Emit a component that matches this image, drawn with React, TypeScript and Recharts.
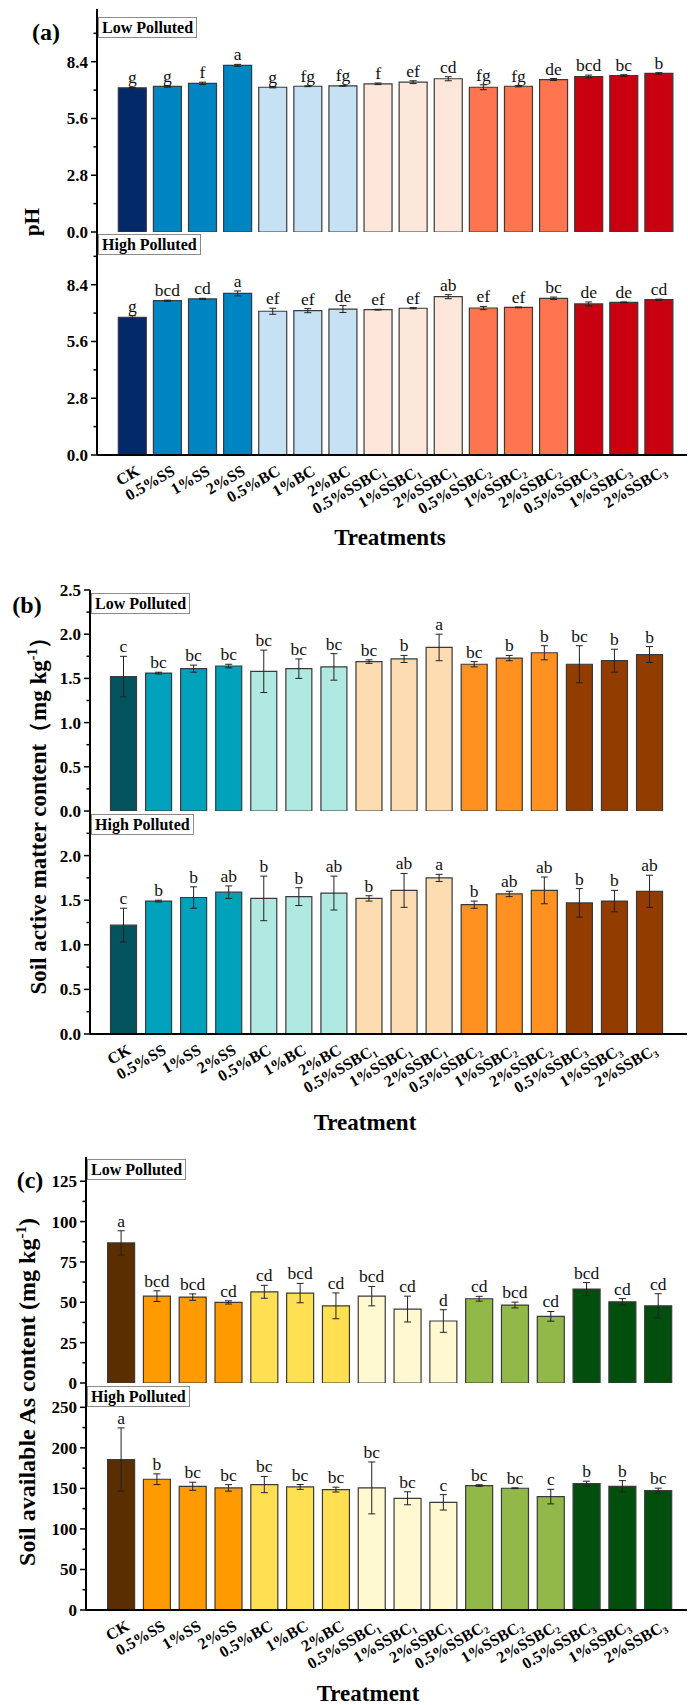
import React from "react";
import { BarChart, Bar, XAxis, YAxis, Cell, ErrorBar, LabelList } from "recharts";

const SERIF = "'Liberation Serif', 'Times New Roman', serif";

const treatments = [
  "CK", "0.5%SS", "1%SS", "2%SS", "0.5%BC", "1%BC", "2%BC",
  "0.5%SSBC₁", "1%SSBC₁", "2%SSBC₁", "0.5%SSBC₂", "1%SSBC₂", "2%SSBC₂",
  "0.5%SSBC₃", "1%SSBC₃", "2%SSBC₃",
];
const groupOf = [0, 1, 1, 1, 2, 2, 2, 3, 3, 3, 4, 4, 4, 5, 5, 5];

// (a) pH
const phLow = [7.11, 7.18, 7.33, 8.22, 7.14, 7.19, 7.21, 7.31, 7.39, 7.56, 7.14, 7.19, 7.52, 7.67, 7.72, 7.82];
const phLowErr = [0.02, 0.04, 0.06, 0.05, 0.03, 0.02, 0.02, 0.04, 0.07, 0.1, 0.12, 0.03, 0.05, 0.07, 0.04, 0.04];
const phLowSig = ["g", "g", "f", "a", "g", "fg", "fg", "f", "ef", "cd", "fg", "fg", "de", "bcd", "bc", "b"];
const phHigh = [6.79, 7.61, 7.7, 7.97, 7.09, 7.12, 7.2, 7.17, 7.24, 7.81, 7.25, 7.28, 7.73, 7.45, 7.53, 7.66];
const phHighErr = [0.08, 0.03, 0.03, 0.12, 0.15, 0.1, 0.17, 0.02, 0.03, 0.1, 0.08, 0.02, 0.06, 0.1, 0.02, 0.03];
const phHighSig = ["g", "bcd", "cd", "a", "ef", "ef", "de", "ef", "ef", "ab", "ef", "ef", "bc", "de", "de", "cd"];
const phColors = ["#03296b", "#0085c3", "#c6e0f4", "#fde7da", "#ff7550", "#c9000f"];
const phTicks = [0, 2.8, 5.6, 8.4];
const phMinor = [1.4, 4.2, 7.0, 9.8];

// (b) soil active matter
const samLow = [1.52, 1.56, 1.61, 1.64, 1.58, 1.61, 1.63, 1.69, 1.72, 1.85, 1.66, 1.73, 1.79, 1.66, 1.7, 1.77];
const samLowErr = [0.23, 0.01, 0.04, 0.02, 0.24, 0.11, 0.15, 0.02, 0.04, 0.15, 0.03, 0.03, 0.08, 0.21, 0.13, 0.09];
const samLowSig = ["c", "bc", "bc", "bc", "bc", "bc", "bc", "bc", "b", "a", "bc", "b", "b", "bc", "b", "b"];
const samHigh = [1.22, 1.49, 1.53, 1.59, 1.52, 1.54, 1.58, 1.52, 1.61, 1.75, 1.45, 1.57, 1.61, 1.47, 1.49, 1.6];
const samHighErr = [0.19, 0.01, 0.12, 0.07, 0.25, 0.1, 0.19, 0.03, 0.19, 0.04, 0.04, 0.03, 0.15, 0.16, 0.12, 0.18];
const samHighSig = ["c", "b", "b", "ab", "b", "b", "ab", "b", "ab", "a", "b", "ab", "ab", "b", "b", "ab"];
const samColors = ["#03535f", "#00a1bb", "#b0e9e1", "#fedcb2", "#ff9120", "#933c00"];
const samTicksLow = [0, 0.5, 1.0, 1.5, 2.0, 2.5];
const samTicksHigh = [0, 0.5, 1.0, 1.5, 2.0];
const samMinor = [0.25, 0.75, 1.25, 1.75, 2.25];

// (c) available As
const asLow = [86.8, 53.8, 53.2, 49.9, 56.5, 55.7, 47.8, 53.8, 45.8, 38.4, 52.2, 48.3, 41.3, 58.2, 50.3, 47.8];
const asLowErr = [7.5, 3.3, 2, 1, 4, 6, 8, 6, 8, 7, 1.5, 1.8, 3, 4, 2, 7.5];
const asLowSig = ["a", "bcd", "bcd", "cd", "cd", "bcd", "cd", "bcd", "cd", "d", "cd", "bcd", "cd", "bcd", "cd", "cd"];
const asHigh = [185.6, 161.3, 152.6, 150.6, 154.7, 151.8, 148.5, 150.6, 137.8, 132.8, 153.5, 150.2, 139.9, 155.9, 152.6, 147.3];
const asHighErr = [39, 6.6, 5, 4, 10, 3, 3, 32, 8, 9.5, 1, 0.5, 9, 3, 7, 3];
const asHighSig = ["a", "b", "bc", "bc", "bc", "bc", "bc", "bc", "bc", "c", "bc", "bc", "c", "b", "b", "bc"];
const asColors = ["#5b2e00", "#ff9a00", "#ffe052", "#fff8d1", "#93b84a", "#024f0d"];
const asTicksLow = [0, 25, 50, 75, 100, 125];
const asMinorLow = [12.5, 37.5, 62.5, 87.5, 112.5];
const asTicksHigh = [0, 50, 100, 150, 200, 250];
const asMinorHigh = [25, 75, 125, 175, 225];

const axisStyle = { stroke: "#000", strokeWidth: 2 };

type SubProps = {
  values: number[];
  errs: number[];
  sigs: string[];
  colors: string[];
  domain: [number, number];
  ticks: number[];
  minor: number[];
  fmt: (v: number) => string;
  top: number;
  bottom: number;
  left: number;
  right: number;
  padL: number;
  padR: number;
  barSize: number;
  showX: boolean;
  topLine: boolean;
};

const makeYTick = (major: number[], fmt: (v: number) => string) => (props: any) => {
  const { x, y, payload } = props;
  const ax = x + 10;
  const isMajor = major.includes(payload.value);
  return (
    <g>
      <line x1={ax - (isMajor ? 6 : 3.5)} x2={ax} y1={y} y2={y} stroke="#000" strokeWidth={1.5} />
      {isMajor && (
        <text x={ax - 9} y={y} dy="0.35em" textAnchor="end" fontFamily={SERIF} fontWeight="bold" fontSize={17} fill="#000">
          {fmt(payload.value)}
        </text>
      )}
    </g>
  );
};

const XTick = (props: any) => {
  const { x, y, payload } = props;
  const ax = x + 9;
  const ay = y + 19;
  return (
    <text x={ax} y={ay} transform={`rotate(-30 ${ax} ${ay})`} textAnchor="end" fontFamily={SERIF} fontWeight="bold" fontSize={16} fill="#000">
      {String(payload.value)}
    </text>
  );
};

const makeSig = (values: number[], errs: number[]) => (props: any) => {
  const vb = props.viewBox || {};
  const x = props.x ?? vb.x;
  const y = props.y ?? vb.y;
  const width = props.width ?? vb.width;
  const height = props.height ?? vb.height;
  const i = props.index;
  const ppu = height / values[i];
  const top = y - errs[i] * ppu;
  return (
    <text x={x + width / 2} y={top - 4} textAnchor="middle" fontFamily={SERIF} fontSize={17.5} fill="#111">
      {props.value}
    </text>
  );
};

function SubChart(p: SubProps) {
  const mt = 14;
  const xh = p.showX ? 80 : 0;
  const mb = p.showX ? 0 : 12;
  const height = mt + (p.bottom - p.top) + xh + mb;
  const data = treatments.map((name, i) => ({ name, v: p.values[i], e: p.errs[i], s: p.sigs[i] }));
  const allTicks = [...p.ticks, ...p.minor].sort((a, b) => a - b);
  return (
    <div style={{ position: "absolute", left: 0, top: p.top - mt }}>
      <BarChart
        width={688}
        height={height}
        data={data}
        margin={{ top: mt, right: 688 - p.right, bottom: mb, left: 0 }}
        barCategoryGap={0}
      >
        {p.topLine && (
          <XAxis xAxisId="t" orientation="top" dataKey="name" height={0} tick={false} tickLine={false} axisLine={axisStyle} />
        )}
        <XAxis
          dataKey="name"
          height={xh}
          interval={0}
          padding={{ left: p.padL, right: p.padR }}
          tickLine={false}
          tickSize={0}
          tickMargin={0}
          axisLine={axisStyle}
          tick={p.showX ? XTick : false}
        />
        <YAxis
          width={p.left}
          type="number"
          domain={p.domain}
          ticks={allTicks}
          interval={0}
          allowDataOverflow
          tickLine={false}
          tickSize={6}
          tickMargin={4}
          axisLine={axisStyle}
          tick={makeYTick(p.ticks, p.fmt)}
        />
        <YAxis yAxisId="r" orientation="right" width={0} type="number" domain={[0, 1]} tick={false} tickLine={false} axisLine={axisStyle} />
        <Bar dataKey="v" barSize={p.barSize} stroke="#3a3a3a" strokeWidth={1.2} isAnimationActive={false}>
          {data.map((d, i) => (
            <Cell key={d.name} fill={p.colors[groupOf[i]]} />
          ))}
          <ErrorBar dataKey="e" width={3.5} stroke="#222" strokeWidth={1} direction="y" />
          <LabelList dataKey="s" content={makeSig(p.values, p.errs)} />
        </Bar>
      </BarChart>
    </div>
  );
}

const Tag = ({ left, top, text }: { left: number; top: number; text: string }) => (
  <div
    style={{
      position: "absolute",
      left,
      top,
      border: "1px solid #8a8a8a",
      background: "#fff",
      padding: "0 3px",
      fontFamily: SERIF,
      fontWeight: "bold",
      fontSize: 16,
      lineHeight: "19px",
      whiteSpace: "nowrap",
    }}
  >
    {text}
  </div>
);

const Title = ({ cx, cy, size, rotate, children }: { cx: number; cy: number; size: number; rotate?: boolean; children: React.ReactNode }) => (
  <div
    style={{
      position: "absolute",
      left: cx,
      top: cy,
      transform: `translate(-50%, -50%)${rotate ? " rotate(-90deg)" : ""}`,
      whiteSpace: "nowrap",
      fontFamily: SERIF,
      fontWeight: "bold",
      fontSize: size,
      lineHeight: 1,
    }}
  >
    {children}
  </div>
);

const f1 = (v: number) => v.toFixed(1);
const f0 = (v: number) => String(v);

export default function App() {
  return (
    <div style={{ position: "absolute", left: 0, top: 0, width: 688, height: 1705, background: "#fff", overflow: "hidden" }}>
      {/* (a) */}
      <SubChart values={phLow} errs={phLowErr} sigs={phLowSig} colors={phColors} domain={[0, 11]} ticks={phTicks} minor={phMinor} fmt={f1}
        top={9} bottom={232} left={97} right={687} padL={17.3} padR={11} barSize={28} showX={false} topLine />
      <SubChart values={phHigh} errs={phHighErr} sigs={phHighSig} colors={phColors} domain={[0, 11]} ticks={phTicks} minor={phMinor} fmt={f1}
        top={232} bottom={455} left={97} right={687} padL={17.3} padR={11} barSize={28} showX topLine={false} />
      {/* (b) */}
      <SubChart values={samLow} errs={samLowErr} sigs={samLowSig} colors={samColors} domain={[0, 2.5]} ticks={samTicksLow} minor={samMinor} fmt={f1}
        top={590} bottom={811} left={90} right={687} padL={15.5} padR={20.4} barSize={26} showX={false} topLine />
      <SubChart values={samHigh} errs={samHighErr} sigs={samHighSig} colors={samColors} domain={[0, 2.5]} ticks={samTicksHigh} minor={samMinor} fmt={f1}
        top={811} bottom={1034} left={90} right={687} padL={15.5} padR={20.4} barSize={26} showX topLine={false} />
      {/* (c) */}
      <SubChart values={asLow} errs={asLowErr} sigs={asLowSig} colors={asColors} domain={[0, 140]} ticks={asTicksLow} minor={asMinorLow} fmt={f0}
        top={1157} bottom={1383} left={86} right={687} padL={17.6} padR={10.5} barSize={27} showX={false} topLine />
      <SubChart values={asHigh} errs={asHighErr} sigs={asHighSig} colors={asColors} domain={[0, 280]} ticks={asTicksHigh} minor={asMinorHigh} fmt={f0}
        top={1383} bottom={1610} left={86} right={687} padL={17.6} padR={10.5} barSize={27} showX topLine={false} />

      <Tag left={98} top={17} text="Low Polluted" />
      <Tag left={98} top={234} text="High Polluted" />
      <Tag left={91} top={593} text="Low Polluted" />
      <Tag left={91} top={814} text="High Polluted" />
      <Tag left={87} top={1159} text="Low Polluted" />
      <Tag left={87} top={1386} text="High Polluted" />

      <Title cx={46} cy={32} size={24}>(a)</Title>
      <Title cx={27} cy={605} size={24}>(b)</Title>
      <Title cx={30} cy={1180} size={24}>(c)</Title>

      <Title cx={32} cy={222} size={21} rotate>pH</Title>
      <Title cx={38} cy={810} size={23} rotate>
        Soil active matter content（mg kg<sup style={{ fontSize: 14 }}>-1</sup>）
      </Title>
      <Title cx={26} cy={1392} size={24} rotate>
        Soil available As content (mg kg<sup style={{ fontSize: 15 }}>-1</sup>)
      </Title>

      <Title cx={390} cy={537} size={23}>Treatments</Title>
      <Title cx={365} cy={1122} size={23}>Treatment</Title>
      <Title cx={368} cy={1693} size={23}>Treatment</Title>
    </div>
  );
}
